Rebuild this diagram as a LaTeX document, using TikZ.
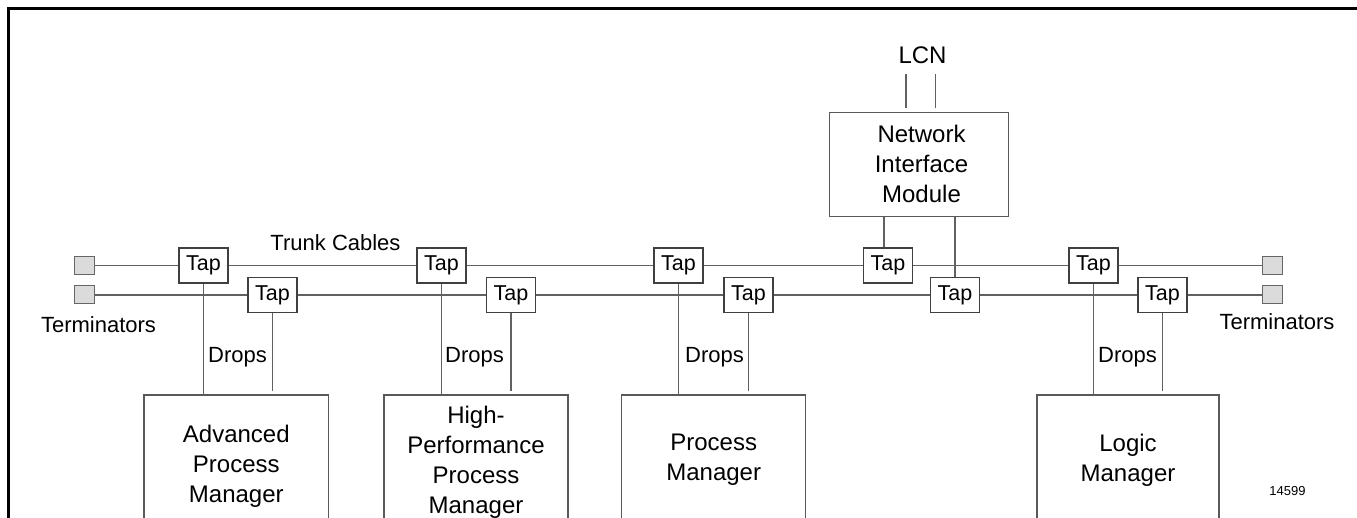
\documentclass[tikz,border=0pt]{standalone}
\usepackage{fontspec}
\setmainfont{Liberation Sans}
\begin{document}
\begin{tikzpicture}[x=1pt,y=-1pt,
  wire/.style={draw=black!62,line width=1.2pt},
  tapbox/.style={draw=black!75,line width=1.2pt,fill=white,minimum width=49pt,minimum height=35pt,inner sep=0pt,font=\fontsize{21.5}{24}\selectfont},
  termbox/.style={draw=black!60,fill=black!14,line width=1pt,minimum width=20pt,minimum height=18pt,inner sep=0pt},
  unitbox/.style={draw=black!65,line width=1.5pt,inner sep=0pt,align=center,font=\fontsize{24}{30}\selectfont},
  lbl/.style={inner sep=0pt,font=\fontsize{22}{26}\selectfont},
]
\clip (0,0) rectangle (1357,518);
% outer frame (top and left edges)
\draw[line width=2.8pt] (8.5,540) -- (8.5,8.5) -- (1380,8.5);

% network interface module and LCN
\node[unitbox,minimum width=179pt,minimum height=104pt] (nim) at (919,164.3) {\hspace*{5pt}Network\\\hspace*{5pt}Interface\\\hspace*{5pt}Module};
\node[inner sep=0pt,font=\fontsize{24}{28}\selectfont] (lcn) at (922.5,55) {LCN};
\coordinate (l1) at (906,74);
\coordinate (l2) at (935.3,74);
\draw[wire,shorten >=3.5pt] (l1) -- (l1 |- nim.north);
\draw[wire,shorten >=3.5pt] (l2) -- (l2 |- nim.north);

% terminators
\node[termbox] (tl1) at (84,265.5) {};
\node[termbox] (tl2) at (84,295) {};
\node[termbox] (tr1) at (1272,265.5) {};
\node[termbox] (tr2) at (1272,295) {};

% taps on trunk cable A
\node[tapbox] (a1) at (203.5,265.5) {Tap};
\node[tapbox] (a2) at (441.5,265.5) {Tap};
\node[tapbox] (a3) at (678.5,265.5) {Tap};
\node[tapbox] (a4) at (888,265.5) {Tap};
\node[tapbox] (a5) at (1093.5,265.5) {Tap};
% taps on trunk cable B
\node[tapbox] (b1) at (272.5,295) {Tap};
\node[tapbox] (b2) at (511,295) {Tap};
\node[tapbox] (b3) at (748.5,295) {Tap};
\node[tapbox] (b4) at (955,295) {Tap};
\node[tapbox] (b5) at (1162.5,295) {Tap};

% trunk cables
\draw[wire] (tl1) -- (a1) -- (a2) -- (a3) -- (a4) -- (a5) -- (tr1);
\draw[wire] (tl2) -- (b1) -- (b2) -- (b3) -- (b4) -- (b5) -- (tr2);

% process units
\node[unitbox,minimum width=184.6pt,minimum height=142pt] (apm) at (236.3,466) {Advanced\\Process\\Manager};
\node[unitbox,minimum width=184pt,minimum height=134pt] (hpm) at (476,462) {High-\\Performance\\Process\\Manager};
\node[unitbox,minimum width=184pt,minimum height=130pt] (pm) at (713.7,460) {Process\\Manager};
\node[unitbox,minimum width=182pt,minimum height=130pt] (lm) at (1128,460) {Logic\\Manager};

% drops
\draw[wire] (a1) -- (a1 |- apm.north);
\draw[wire,shorten >=3pt] (b1) -- (b1 |- apm.north);
\draw[wire] (a2) -- (a2 |- hpm.north);
\draw[wire,shorten >=3pt] (b2) -- (b2 |- hpm.north);
\draw[wire] (a3) -- (a3 |- pm.north);
\draw[wire,shorten >=3pt] (b3) -- (b3 |- pm.north);
\draw[wire] (a5) -- (a5 |- lm.north);
\draw[wire,shorten >=3pt] (b5) -- (b5 |- lm.north);
\draw[wire] (nim.south -| 884,0) -- (884,0 |- a4.north);
\draw[wire] (nim.south -| b4) -- (b4);

% labels
\node[lbl] (trunk) at (335.5,243) {Trunk Cables};
\node[lbl] (terml) at (98.5,325) {Terminators};
\node[lbl] (termr) at (1277,322) {Terminators};
\node[lbl,anchor=west] (d1) at (208,357) {Drops};
\node[lbl,anchor=west] (d2) at (445,357) {Drops};
\node[lbl,anchor=west] (d3) at (685,357) {Drops};
\node[lbl,anchor=west] (d4) at (1098,357) {Drops};
\node[inner sep=0pt,font=\fontsize{13}{15}\selectfont] (fig) at (1287.5,490.7) {14599};
\end{tikzpicture}
\end{document}
